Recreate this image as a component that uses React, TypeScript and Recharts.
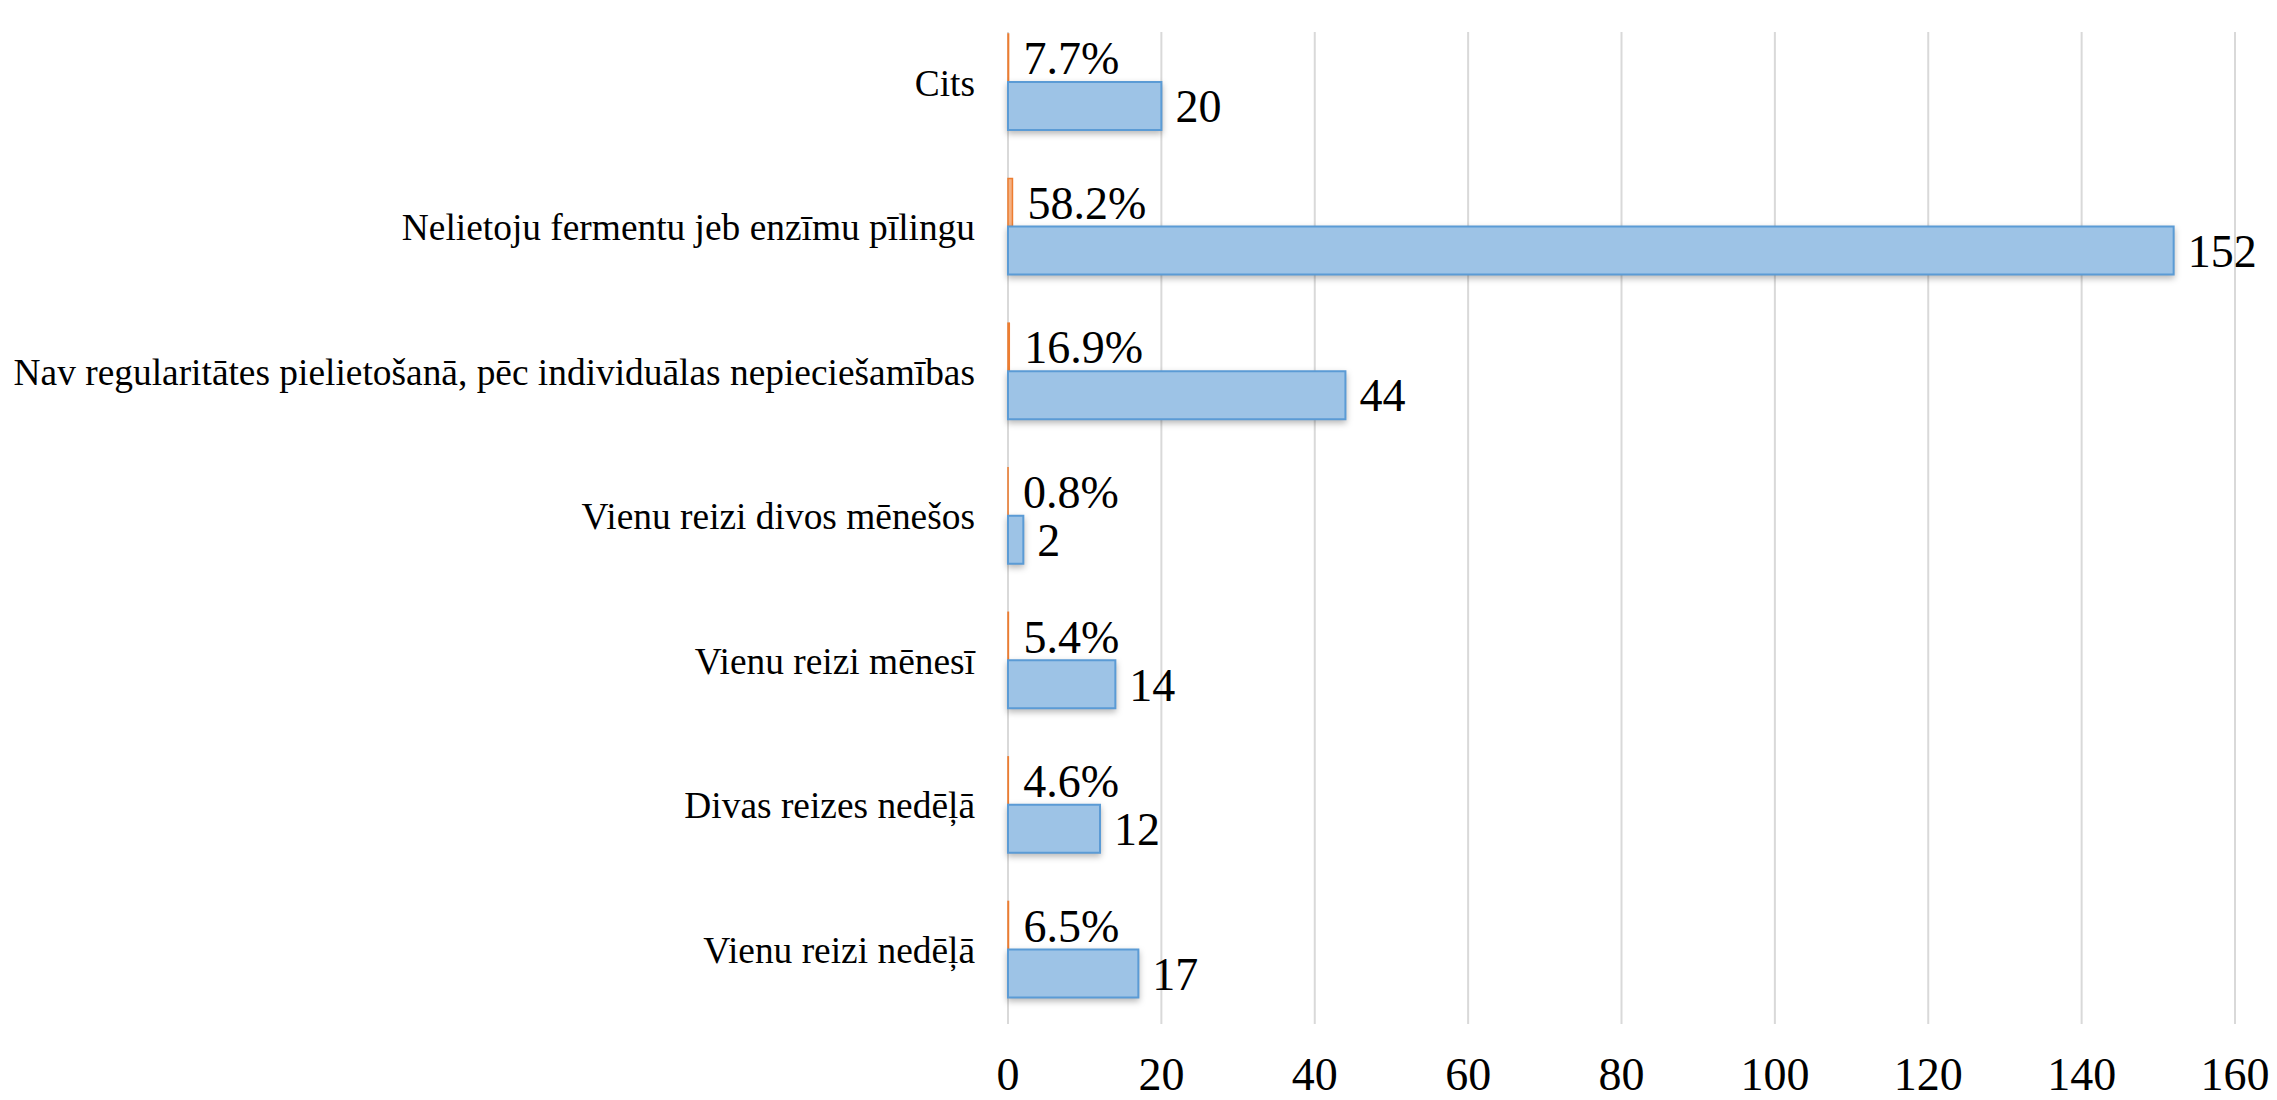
import { Bar, BarChart, CartesianGrid, LabelList, XAxis, YAxis } from 'recharts'

const categories = [
  'Cits',
  'Nelietoju fermentu jeb enzīmu pīlingu',
  'Nav regularitātes pielietošanā, pēc individuālas nepieciešamības',
  'Vienu reizi divos mēnešos',
  'Vienu reizi mēnesī',
  'Divas reizes nedēļā',
  'Vienu reizi nedēļā',
]

const counts = [20, 152, 44, 2, 14, 12, 17]

// share of respondents, plotted on the same axis as the counts (as Excel did)
const shares = [0.077, 0.582, 0.169, 0.008, 0.054, 0.046, 0.065]

const xTicks = [0, 20, 40, 60, 80, 100, 120, 140, 160]

const data = categories.map((name, i) => ({
  name,
  count: counts[i],
  share: shares[i],
}))

const FONT = 'Liberation Serif'

function formatShare(value: number) {
  return `${(value * 100).toFixed(1)}%`
}

export default function App() {
  return (
    <div style={{ width: 2277, height: 1100, background: '#fff', fontFamily: FONT }}>
      <style>
        {'body{margin:0} .recharts-wrapper text{font-family:"Liberation Serif",serif} .count-bar path{filter:drop-shadow(0 3px 3px rgba(0,0,0,0.28))}'}
      </style>
      <BarChart
        width={2277}
        height={1100}
        data={data}
        layout="vertical"
        margin={{ top: 10, right: 42, bottom: 0, left: 0 }}
        barSize={48}
        barGap={0}
      >
        <CartesianGrid horizontal={false} stroke="#D9D9D9" strokeWidth={2} y={32} height={992} />
        <XAxis
          type="number"
          domain={[0, 160]}
          ticks={xTicks}
          axisLine={false}
          tickLine={false}
          tickSize={0}
          tickMargin={35}
          height={78}
          tick={{ fontSize: 46, fill: '#000' }}
        />
        <YAxis
          type="category"
          dataKey="name"
          width={1008}
          axisLine={false}
          tickLine={false}
          tickSize={0}
          tickMargin={33}
          interval={0}
          tick={{ fontSize: 37.4, fill: '#000' }}
        />
        <Bar dataKey="share" fill="#F4B183" stroke="#ED7D31" strokeWidth={1.5} isAnimationActive={false}>
          <LabelList
            dataKey="share"
            position="right"
            offset={15}
            formatter={(value: number) => formatShare(value)}
            style={{ fontSize: 46, fill: '#000' }}
          />
        </Bar>
        <Bar
          className="count-bar"
          dataKey="count"
          fill="#9DC3E6"
          stroke="#5B9BD5"
          strokeWidth={2}
          isAnimationActive={false}
        >
          <LabelList dataKey="count" position="right" offset={14} style={{ fontSize: 46, fill: '#000' }} />
        </Bar>
      </BarChart>
    </div>
  )
}
